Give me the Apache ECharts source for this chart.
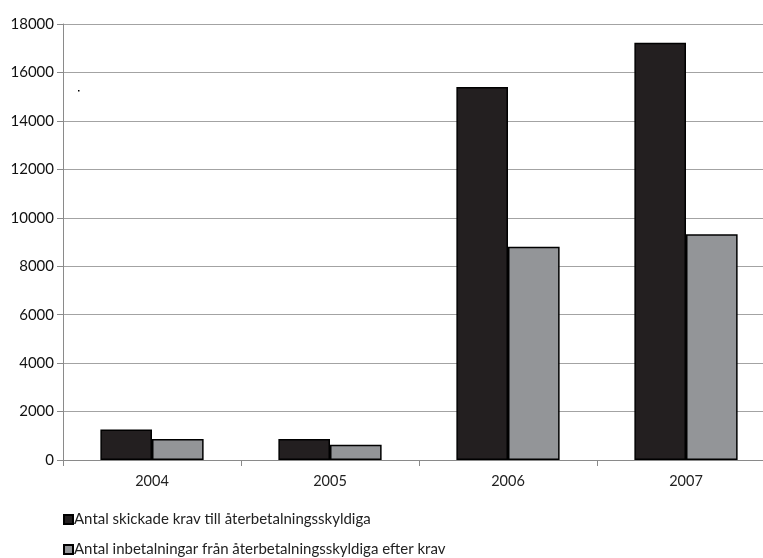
<!DOCTYPE html>
<html><head><meta charset="utf-8">
<script src="https://cdn.jsdelivr.net/npm/echarts@6/dist/echarts.min.js"></script>
<style>html,body{margin:0;padding:0;background:#fff;overflow:hidden}#c{width:775px;height:558px}</style>
</head><body><div id="c"></div>
<script>
var categories = ['2004', '2005', '2006', '2007'];
var seriesNames = ['Antal skickade krav till återbetalningsskyldiga', 'Antal inbetalningar från återbetalningsskyldiga efter krav'];
var sentDemands = [1260, 866, 15400, 17230];
var payments = [866, 630, 8800, 9320];
var yTicks = [0, 2000, 4000, 6000, 8000, 10000, 12000, 14000, 16000, 18000];

var chart = echarts.init(document.getElementById('c'));
var font = 'Lato, "Open Sans", sans-serif';
var legendText = {fontFamily: font, fontSize: 15, color: '#222', padding: [0,0,0,-4]};
chart.setOption({
  animation: false,
  textStyle: {fontFamily: font},
  grid: {left: 63, right: 0, top: 24, height: 436, containLabel: false},
  legend: [
    {left: 58, top: 507, itemWidth: 9, itemHeight: 9, icon: 'rect', textStyle: legendText, data: [seriesNames[0]]},
    {left: 58, top: 537, itemWidth: 9, itemHeight: 9, icon: 'rect', textStyle: legendText, data: [seriesNames[1]]}
  ],
  xAxis: {
    type: 'category', data: categories,
    axisLine: {lineStyle: {color: '#8a8a8a', width: 1}},
    axisTick: {show: true, length: 6, lineStyle: {color: '#8a8a8a'}},
    axisLabel: {fontFamily: font, fontSize: 14.5, color: '#222', margin: 14}
  },
  yAxis: {
    type: 'value', min: yTicks[0], max: yTicks[yTicks.length-1], interval: 2000,
    axisLine: {show: true, lineStyle: {color: '#8a8a8a', width: 1}},
    axisTick: {show: true, length: 6, lineStyle: {color: '#8a8a8a'}},
    splitLine: {lineStyle: {color: '#a3a3a3', width: 1.2}},
    axisLabel: {fontFamily: font, fontSize: 15, color: '#111', margin: 9, formatter: function(v){return String(v);}}
  },
  series: [
    {name: seriesNames[0], type: 'bar', data: sentDemands, barGap: '0%', barCategoryGap: '42%',
     itemStyle: {color: '#231f20', borderColor: '#000', borderWidth: 1.5}},
    {name: seriesNames[1], type: 'bar', data: payments,
     itemStyle: {color: '#939598', borderColor: '#000', borderWidth: 1.5}}
  ],
  graphic: [{type: 'rect', shape: {x: 78, y: 90, width: 1.5, height: 1.5}, style: {fill: '#000'}}]
});
</script></body></html>
